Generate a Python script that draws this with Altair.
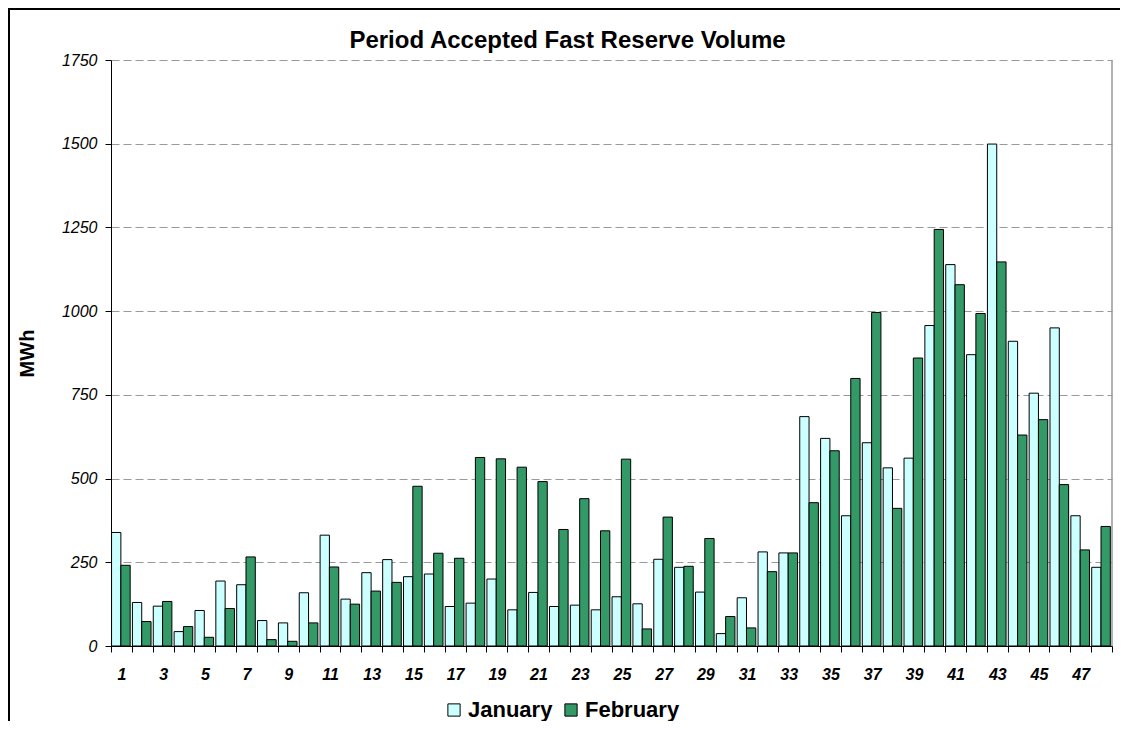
import altair as alt
import pandas as pd

periods = list(range(1, 49))
january = [339, 130, 119, 43, 106, 194, 183, 76, 69, 159,
           331, 140, 219, 258, 207, 215, 118, 128, 200, 108,
           160, 118, 122, 108, 147, 126, 259, 235, 161, 37,
           144, 281, 278, 685, 620, 389, 607, 532, 561, 957,
           1139, 870, 1499, 910, 755, 950, 389, 235]
february = [241, 73, 133, 58, 26, 112, 266, 19, 14, 69,
            236, 125, 164, 190, 477, 277, 262, 563, 559, 534,
            491, 348, 440, 344, 558, 51, 385, 238, 321, 88,
            54, 222, 278, 428, 583, 799, 996, 411, 860, 1244,
            1079, 993, 1147, 630, 676, 482, 287, 357]
months = ["January", "February"]
colors = ["#CCFFFF", "#339966"]
y_ticks = [0, 250, 500, 750, 1000, 1250, 1500, 1750]
title_text = "Period Accepted Fast Reserve Volume"
y_title = "MWh"

rows = []
for i, p in enumerate(periods):
    rows.append({"period": p, "month": "January", "value": january[i]})
    rows.append({"period": p, "month": "February", "value": february[i]})
df = pd.DataFrame(rows)

W, H = 1001, 586
FONT = "Liberation Sans"

bars = alt.Chart(df).mark_bar(stroke="black", strokeWidth=1).encode(
    x=alt.X("period:O", sort=periods,
            scale=alt.Scale(paddingInner=0, paddingOuter=0),
            axis=alt.Axis(title=None,
                          labelExpr="datum.value % 2 == 1 ? datum.label : ''",
                          labelAngle=0, labelFont=FONT, labelFontSize=16,
                          labelFontWeight="bold", labelFontStyle="italic",
                          labelColor="black", labelPadding=14, labelOverlap=False,
                          tickBand="extent", tickSize=6, tickColor="black",
                          domainColor="black", grid=False)),
    xOffset=alt.XOffset("month:N", sort=months,
                        scale=alt.Scale(paddingInner=0, paddingOuter=0.12, align=0.25)),
    y=alt.Y("value:Q", scale=alt.Scale(domain=[0, 1750], nice=False),
            axis=alt.Axis(values=y_ticks, title=y_title, format="d",
                          titleFont=FONT, titleFontSize=20, titleFontWeight="bold",
                          titleColor="black", titleX=-84, titleY=293,
                          titleAngle=270, titleAlign="center", titleBaseline="middle",
                          labelFont=FONT, labelFontSize=16, labelFontStyle="italic",
                          labelColor="black", labelPadding=8,
                          tickSize=6, tickColor="black", domainColor="black",
                          grid=True, gridColor="#999999", gridDash=[8, 4], gridWidth=1)),
    color=alt.Color("month:N", sort=months,
                    scale=alt.Scale(domain=months, range=colors),
                    legend=alt.Legend(title=None, orient="none", legendX=332, legendY=639,
                                      direction="horizontal", symbolType="square",
                                      symbolSize=150, symbolStrokeColor="black",
                                      symbolStrokeWidth=1, symbolOpacity=1,
                                      labelFont=FONT, labelFontSize=22,
                                      labelFontWeight="bold", labelColor="black",
                                      labelOffset=3, columnPadding=7, padding=0)),
)

one = pd.DataFrame({"t": [title_text]})

right_edge = alt.Chart(one).mark_rule(color="#999999", strokeWidth=1.5).encode(
    x=alt.value(W), y=alt.value(0), y2=alt.value(H))

border_left = alt.Chart(one).mark_rule(color="black", strokeWidth=2).encode(
    x=alt.value(-102), y=alt.value(-51), y2=alt.value(H + 100))
border_top = alt.Chart(one).mark_rule(color="black", strokeWidth=2).encode(
    x=alt.value(-103), x2=alt.value(W + 40), y=alt.value(-51))

title = alt.Chart(one).mark_text(font=FONT, fontSize=24, fontWeight="bold",
                                 align="center", baseline="alphabetic",
                                 color="black").encode(
    x=alt.value(456.5), y=alt.value(-12.3), text="t:N")

chart = alt.layer(bars, right_edge, border_left, border_top, title).properties(
    width=W, height=H,
    autosize=alt.AutoSizeParams(type="none"),
    padding={"left": 103, "top": 52, "right": 8, "bottom": 75},
    background="white",
).configure_view(stroke=None)

chart.save("out.html", embed_options={"renderer": "svg", "actions": False})
